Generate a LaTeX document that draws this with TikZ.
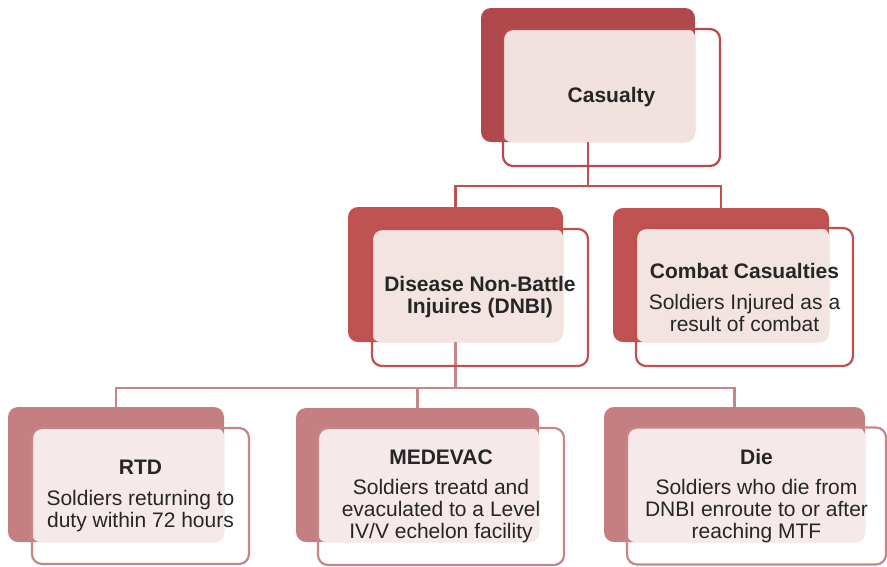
\documentclass[tikz,border=0pt]{standalone}
\usepackage{fontspec}
\setmainfont{Liberation Sans}
\begin{document}
\begin{tikzpicture}[x=1pt,y=-1pt,
  txt/.style={text=black!85, font=\fontsize{21}{22}\selectfont, align=center},
  back/.style={rectangle, rounded corners=10pt, inner sep=0pt},
  front/.style={rectangle, rounded corners=10pt, inner sep=0pt, draw, line width=2.2pt, txt},
  conn/.style={line width=2.2pt},
]
\definecolor{backA}{HTML}{AF494B}
\definecolor{lineA}{HTML}{B94A4C}
\definecolor{pinkA}{HTML}{F2E2DF}
\definecolor{backB}{HTML}{C05252}
\definecolor{lineB}{HTML}{C0504D}
\definecolor{pinkB}{HTML}{F3E4E2}
\definecolor{backC}{HTML}{C47F80}
\definecolor{lineC}{HTML}{C88587}
\definecolor{pinkC}{HTML}{F5E9E9}
\useasboundingbox (0,0) rectangle (887,566);

% back boxes
\node[back, fill=backA, minimum width=214pt, minimum height=134pt] (casB) at (588,75) {};
\node[back, fill=backB, minimum width=215pt, minimum height=135pt] (dnbiB) at (455.5,274.5) {};
\node[back, fill=backB, minimum width=216pt, minimum height=134pt] (combB) at (721,275) {};
\node[back, fill=backC, minimum width=216pt, minimum height=135pt] (rtdB) at (116,474.5) {};
\node[back, fill=backC, minimum width=243pt, minimum height=134pt] (medB) at (417.5,475) {};
\node[back, fill=backC, minimum width=261pt, minimum height=135pt] (dieB) at (734.5,474.5) {};

% front box positions (shapes only for anchors)
\node[back, minimum width=217pt, minimum height=137pt] (casF0) at (611.5,97.5) {};
\node[back, minimum width=216pt, minimum height=137pt] (dnbiF0) at (480,297.5) {};
\node[back, minimum width=217pt, minimum height=138pt] (combF0) at (744.5,297) {};
\node[back, minimum width=217pt, minimum height=136pt] (rtdF0) at (140.5,496) {};
\node[back, minimum width=246pt, minimum height=137pt] (medF0) at (441,496.5) {};
\node[back, minimum width=259pt, minimum height=137pt] (dieF0) at (756.5,496) {};

% pale overlaps
\fill[pinkA, rounded corners=9pt] (casF0.north west) rectangle (casB.south east);
\fill[pinkB, rounded corners=9pt] (dnbiF0.north west) rectangle (dnbiB.south east);
\fill[pinkB, rounded corners=9pt] (combF0.north west) rectangle (combB.south east);
\fill[pinkC, rounded corners=9pt] (rtdF0.north west) rectangle (rtdB.south east);
\fill[pinkC, rounded corners=9pt] (medF0.north west) rectangle (medB.south east);
\fill[pinkC, rounded corners=9pt] (dieF0.north west) rectangle (dieB.south east);

% connectors
\coordinate (j1) at (588,186);
\coordinate (j2) at (455.5,388);
\draw[conn, lineB] (casB.south) -- (j1);
\draw[conn, lineB] (dnbiB.north) |- (j1) -| (combB.north);
\draw[conn, lineC] (dnbiB.south) -- (j2);
\draw[conn, lineC] (rtdB.north) |- (j2) -| (dieB.north);
\draw[conn, lineC] (medB.north) -- (medB.north |- j2);

% front boxes with text
\node[front, draw=lineA, minimum width=217pt, minimum height=137pt] (casF) at (611.5,97.5) {\bfseries Casualty};
\node[front, draw=lineB, minimum width=216pt, minimum height=137pt] (dnbiF) at (480,297.5) {\bfseries Disease Non-Battle\\\bfseries Injuires (DNBI)};
\node[front, draw=lineB, minimum width=217pt, minimum height=138pt] (combF) at (744.5,297) {\bfseries Combat Casualties\\[9pt]Soldiers Injured as a\\result of combat};
\node[front, draw=lineC, minimum width=217pt, minimum height=136pt] (rtdF) at (140.5,496) {\bfseries RTD\\[9pt]Soldiers returning to\\duty within 72 hours};
\node[front, draw=lineC, minimum width=246pt, minimum height=137pt] (medF) at (441,496.5) {\bfseries MEDEVAC\\[8pt]Soldiers treatd and\\evaculated to a Level\\IV/V echelon facility};
\node[front, draw=lineC, minimum width=259pt, minimum height=137pt] (dieF) at (756.5,496) {\bfseries Die\\[8pt]Soldiers who die from\\DNBI enroute to or after\\reaching MTF};
\end{tikzpicture}
\end{document}
